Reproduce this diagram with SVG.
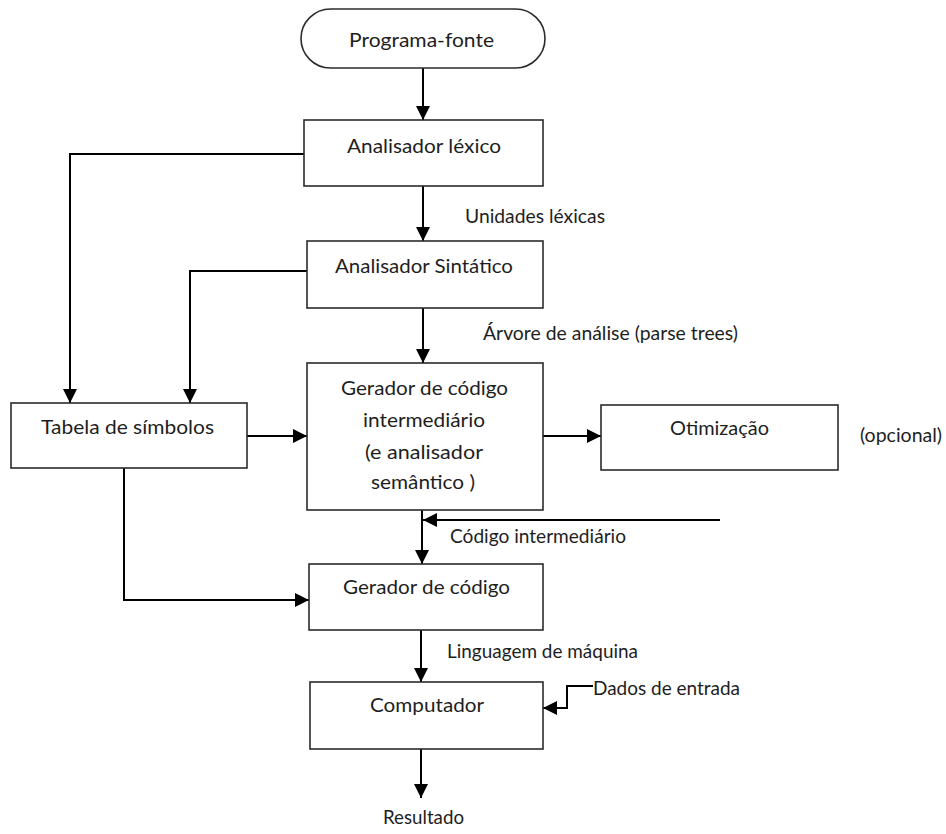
<svg xmlns="http://www.w3.org/2000/svg" width="946" height="834" viewBox="0 0 946 834">
  <style>
    .box { fill: #ffffff; stroke: #2b2b2b; stroke-width: 1.6; }
    .wire { fill: none; stroke: #000000; stroke-width: 2; }
    .lbl { font-family: Lato, "Open Sans", "Liberation Sans", sans-serif; font-size: 20px; fill: #1e1e1e; }
  </style>
  <defs>
    <marker id="arrow" markerUnits="userSpaceOnUse" markerWidth="14" markerHeight="14" refX="14" refY="7" orient="auto">
      <path d="M0,0 L14,7 L0,14 z" fill="#000000"/>
    </marker>
  </defs>
  <rect width="946" height="834" fill="#ffffff"/>

  <!-- connectors -->
  <g id="connectors">
    <path class="wire" d="M423,68 V120" marker-end="url(#arrow)"/>
    <path class="wire" d="M423,186 V241" marker-end="url(#arrow)"/>
    <path class="wire" d="M304,154 H70 V403" marker-end="url(#arrow)"/>
    <path class="wire" d="M307,271 H190 V403" marker-end="url(#arrow)"/>
    <path class="wire" d="M423,308 V363" marker-end="url(#arrow)"/>
    <path class="wire" d="M247,436 H307" marker-end="url(#arrow)"/>
    <path class="wire" d="M543,436 H601" marker-end="url(#arrow)"/>
    <path class="wire" d="M720,520 H423" stroke="#3a3a3a" marker-end="url(#arrow)"/>
    <path class="wire" d="M422,510 V564" marker-end="url(#arrow)"/>
    <path class="wire" d="M124,467 V600 H309" marker-end="url(#arrow)"/>
    <path class="wire" d="M421,630 V682" marker-end="url(#arrow)"/>
    <path class="wire" d="M593,686 H567 V708 H543" marker-end="url(#arrow)"/>
    <path class="wire" d="M421,749 V798" marker-end="url(#arrow)"/>
  </g>

  <!-- connector labels -->
  <g id="edge-labels">
    <text class="lbl" x="465" y="223" textLength="140" lengthAdjust="spacingAndGlyphs">Unidades léxicas</text>
    <text class="lbl" x="483" y="340" textLength="255" lengthAdjust="spacingAndGlyphs">Árvore de análise (parse trees)</text>
    <text class="lbl" x="450" y="543" textLength="176" lengthAdjust="spacingAndGlyphs">Código intermediário</text>
    <text class="lbl" x="447" y="658" textLength="191" lengthAdjust="spacingAndGlyphs">Linguagem de máquina</text>
    <text class="lbl" x="593" y="695" textLength="147" lengthAdjust="spacingAndGlyphs">Dados de entrada</text>
    <text class="lbl" x="383" y="824" textLength="81" lengthAdjust="spacingAndGlyphs">Resultado</text>
    <text class="lbl" x="860" y="442" textLength="82" lengthAdjust="spacingAndGlyphs">(opcional)</text>
  </g>

  <!-- nodes -->
  <g id="programa-fonte">
    <rect class="box" x="301" y="9" width="244" height="59" rx="29.5" ry="29.5"/>
    <text class="lbl" x="349" y="47" textLength="145" lengthAdjust="spacingAndGlyphs">Programa-fonte</text>
  </g>
  <g id="analisador-lexico">
    <rect class="box" x="304" y="120" width="239" height="66"/>
    <text class="lbl" x="347" y="153" textLength="154" lengthAdjust="spacingAndGlyphs">Analisador  léxico</text>
  </g>
  <g id="analisador-sintatico">
    <rect class="box" x="307" y="241" width="236" height="67"/>
    <text class="lbl" x="335" y="273" textLength="178" lengthAdjust="spacingAndGlyphs">Analisador  Sintático</text>
  </g>
  <g id="tabela-simbolos">
    <rect class="box" x="11" y="403" width="236" height="65"/>
    <text class="lbl" x="41" y="434" textLength="173" lengthAdjust="spacingAndGlyphs">Tabela de símbolos</text>
  </g>
  <g id="gerador-intermediario">
    <rect class="box" x="307" y="363" width="236" height="147"/>
    <text class="lbl" x="341" y="395" textLength="167" lengthAdjust="spacingAndGlyphs">Gerador de código</text>
    <text class="lbl" x="363" y="427" textLength="122" lengthAdjust="spacingAndGlyphs">intermediário</text>
    <text class="lbl" x="365" y="459" textLength="118" lengthAdjust="spacingAndGlyphs">(e analisador</text>
    <text class="lbl" x="371" y="489" textLength="104" lengthAdjust="spacingAndGlyphs">semântico )</text>
  </g>
  <g id="otimizacao">
    <rect class="box" x="601" y="405" width="237" height="65"/>
    <text class="lbl" x="670" y="435" textLength="99" lengthAdjust="spacingAndGlyphs">Otimização</text>
  </g>
  <g id="gerador-codigo">
    <rect class="box" x="309" y="564" width="234" height="66"/>
    <text class="lbl" x="343" y="594" textLength="167" lengthAdjust="spacingAndGlyphs">Gerador de código</text>
  </g>
  <g id="computador">
    <rect class="box" x="310" y="682" width="233" height="67"/>
    <text class="lbl" x="370" y="712" textLength="114" lengthAdjust="spacingAndGlyphs">Computador</text>
  </g>
</svg>
